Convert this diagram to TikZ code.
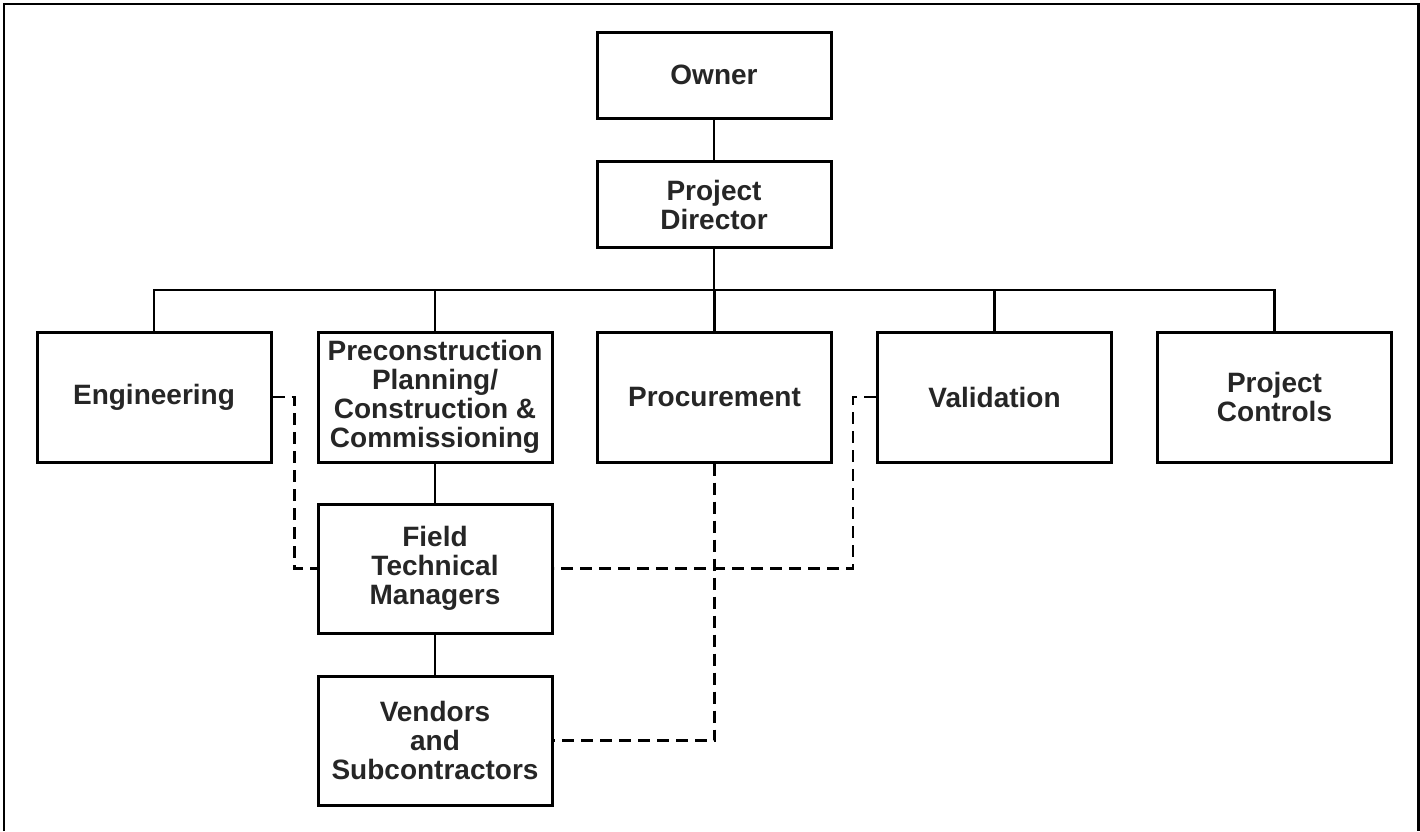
\documentclass[tikz,border=0pt]{standalone}
\usepackage{fontspec}
\setmainfont{Liberation Sans}
\begin{document}
\begin{tikzpicture}[x=1pt,y=-1pt,
  orgbox/.style={draw, line width=3pt, minimum width=234pt, inner sep=2pt,
    align=center, font=\fontsize{28}{29}\selectfont\bfseries, text=black!85},
  tall/.style={orgbox, minimum height=130pt},
  short/.style={orgbox, minimum height=86pt},
  link/.style={line width=2.5pt},
  dotlink/.style={line width=2.5pt, dash pattern=on 12pt off 7pt}]
  \useasboundingbox (0,0) rectangle (1420,831);
  % frame around the chart (open at the bottom)
  \draw[line width=2.6pt] (4,831) -- (4,4) -- (1418.5,4) -- (1418.5,831);

  % boxes
  \node[short] (own) at (714,75) {Owner};
  \node[short] (pd) at (714,204.5) {Project\\Director};
  \node[tall] (eng) at (154,397) {Engineering};
  \node[tall] (pre) at (435,397) {Preconstruction\\Planning/\\Construction \&\\Commissioning};
  \node[tall] (proc) at (714.5,397) {Procurement};
  \node[tall] (val) at (994.5,397) {Validation};
  \node[tall] (pc) at (1274.5,397) {Project\\Controls};
  \node[tall, minimum height=129pt] (ftm) at (435,568.5) {Field\\Technical\\Managers};
  \node[tall, minimum height=129pt] (ven) at (435,740.5) {Vendors\\and\\Subcontractors};

  % solid reporting lines
  \coordinate (bus) at (714,290);
  \draw[link] (own) -- (pd);
  \draw[link] (pd.south) -- (bus);
  \draw[link] (eng.north) |- (bus);
  \draw[link] (pc.north) |- (bus);
  \draw[link] (pre.north) -- (pre.north |- bus);
  \draw[link] (proc.north) -- (proc.north |- bus);
  \draw[link] (val.north) -- (val.north |- bus);
  \draw[link] (pre) -- (ftm);
  \draw[link] (ftm) -- (ven);

  % dashed coordination lines
  \draw[dotlink] (eng.east) -- ++(22,0) |- (ftm.west);
  \draw[dotlink] (val.west) -- ++(-23,0) |- (ftm.east);
  \draw[dotlink] (proc.south) |- (ven.east);
\end{tikzpicture}
\end{document}
